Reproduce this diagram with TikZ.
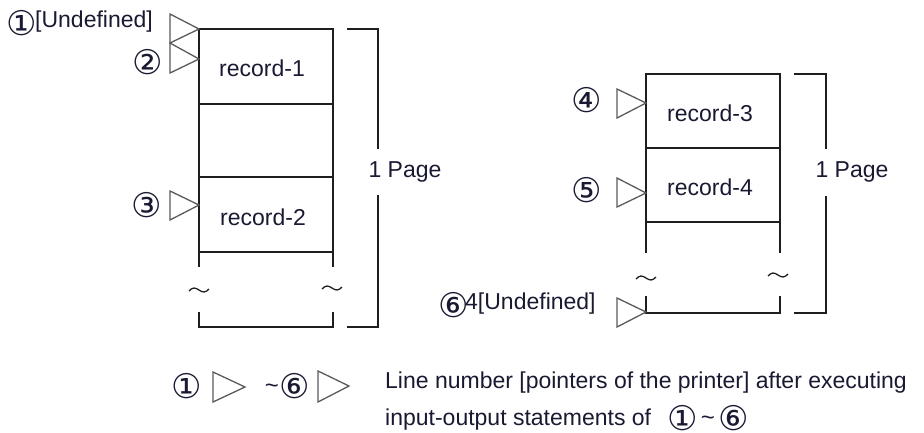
\documentclass[tikz,border=0pt]{standalone}
\usepackage{fontspec}
\setmainfont{Liberation Sans}
\newfontfamily\sym{DejaVu Sans}
\definecolor{ink}{RGB}{25,25,50}
\definecolor{linec}{RGB}{30,30,30}
\definecolor{ptrc}{RGB}{90,90,90}
\begin{document}
\begin{tikzpicture}[x=1pt,y=-1pt,
  box/.style={draw=linec, line width=1.6pt, line cap=rect},
  ptr/.style={draw=ptrc, line width=1.3pt, line join=miter},
  lbl/.style={font=\fontsize{23}{26}\selectfont, text=ink, inner sep=0pt},
  circ/.style={font=\sym\fontsize{34}{36}\selectfont, text=ink, inner sep=0pt},
  tld/.style={font=\fontsize{24}{26}\selectfont, text=ink, inner sep=0pt},
  wave/.style={draw=linec, line width=1.3pt}]
\useasboundingbox (0,0) rectangle (924,432);

% ---------- left page ----------
\draw[box] (199,266) -- (199,29) -- (333,29) -- (333,266);
\draw[box] (199,104) -- (333,104);
\draw[box] (199,177) -- (333,177);
\draw[box] (199,252) -- (333,252);
\draw[box] (199,313) -- (199,327) -- (333,327) -- (333,313);
\draw[wave] (189,291) sin (194,288) cos (199,290) sin (204,292) cos (209,289);
\draw[wave] (322,289) sin (327,286) cos (332,288) sin (337,290) cos (342,287);
% bracket
\draw[box] (348,29) -- (378,29) -- (378,148);
\draw[box] (378,196) -- (378,327) -- (348,327);
\node[lbl] (page1) at (405,172) {1 Page};

\node[lbl] (rec1) at (262,68) {record-1};
\node[lbl] (rec2) at (263,217) {record-2};

% pointers
\draw[ptr] (170,14) -- (199,29) -- (170,43) -- cycle;
\draw[ptr] (170,43) -- (199,59) -- (170,73) -- cycle;
\draw[ptr] (170,191) -- (199,205) -- (170,220) -- cycle;
\node[circ] (c1) at (22,23) {①};
\node[lbl, anchor=west] (und1) at (35,22) {[Undefined]};
\node[circ] (c2) at (148,62) {②};
\node[circ] (c3) at (147,205) {③};

% ---------- right page ----------
\draw[box] (646,252) -- (646,74) -- (780,74) -- (780,252);
\draw[box] (646,148) -- (780,148);
\draw[box] (646,222) -- (780,222);
\draw[box] (646,297) -- (646,313) -- (780,313) -- (780,297);
\draw[wave] (636,279) sin (641,276) cos (646,278) sin (651,280) cos (656,277);
\draw[wave] (768,276) sin (773,273) cos (778,275) sin (783,277) cos (788,274);
\draw[box] (795,74) -- (826,74) -- (826,148);
\draw[box] (826,197) -- (826,313) -- (795,313);
\node[lbl] (page2) at (852,172) {1 Page};

\node[lbl] (rec3) at (710,113) {record-3};
\node[lbl] (rec4) at (710,187) {record-4};

\draw[ptr] (617,89) -- (646,103) -- (617,118) -- cycle;
\draw[ptr] (617,178) -- (646,193) -- (617,207) -- cycle;
\draw[ptr] (617,298) -- (646,312) -- (617,327) -- cycle;
\node[circ] (c4) at (587,100) {④};
\node[circ] (c5) at (587,190) {⑤};
\node[circ] (c6) at (454,305) {⑥};
\node[lbl, anchor=west] (und2) at (465,304) {4[Undefined]};

% ---------- legend ----------
\node[circ] (l1) at (187,386) {①};
\draw[ptr] (213,372) -- (245,387) -- (213,402) -- cycle;
\node[tld, anchor=base] (lt) at (272,393) {\char`\~};
\node[circ] (l6) at (295,386) {⑥};
\draw[ptr] (318,371) -- (349,386) -- (318,402) -- cycle;
\node[lbl, anchor=base west] (leg1) at (385,388) {Line number [pointers of the printer] after executing};
\node[lbl, anchor=base west] (leg2) at (385,425) {input-output statements of};
\node[circ] (leg3a) at (683,418) {①};
\node[tld, anchor=base] (leg3b) at (708,425) {\char`\~};
\node[circ] (leg3c) at (734,418) {⑥};
\end{tikzpicture}
\end{document}
